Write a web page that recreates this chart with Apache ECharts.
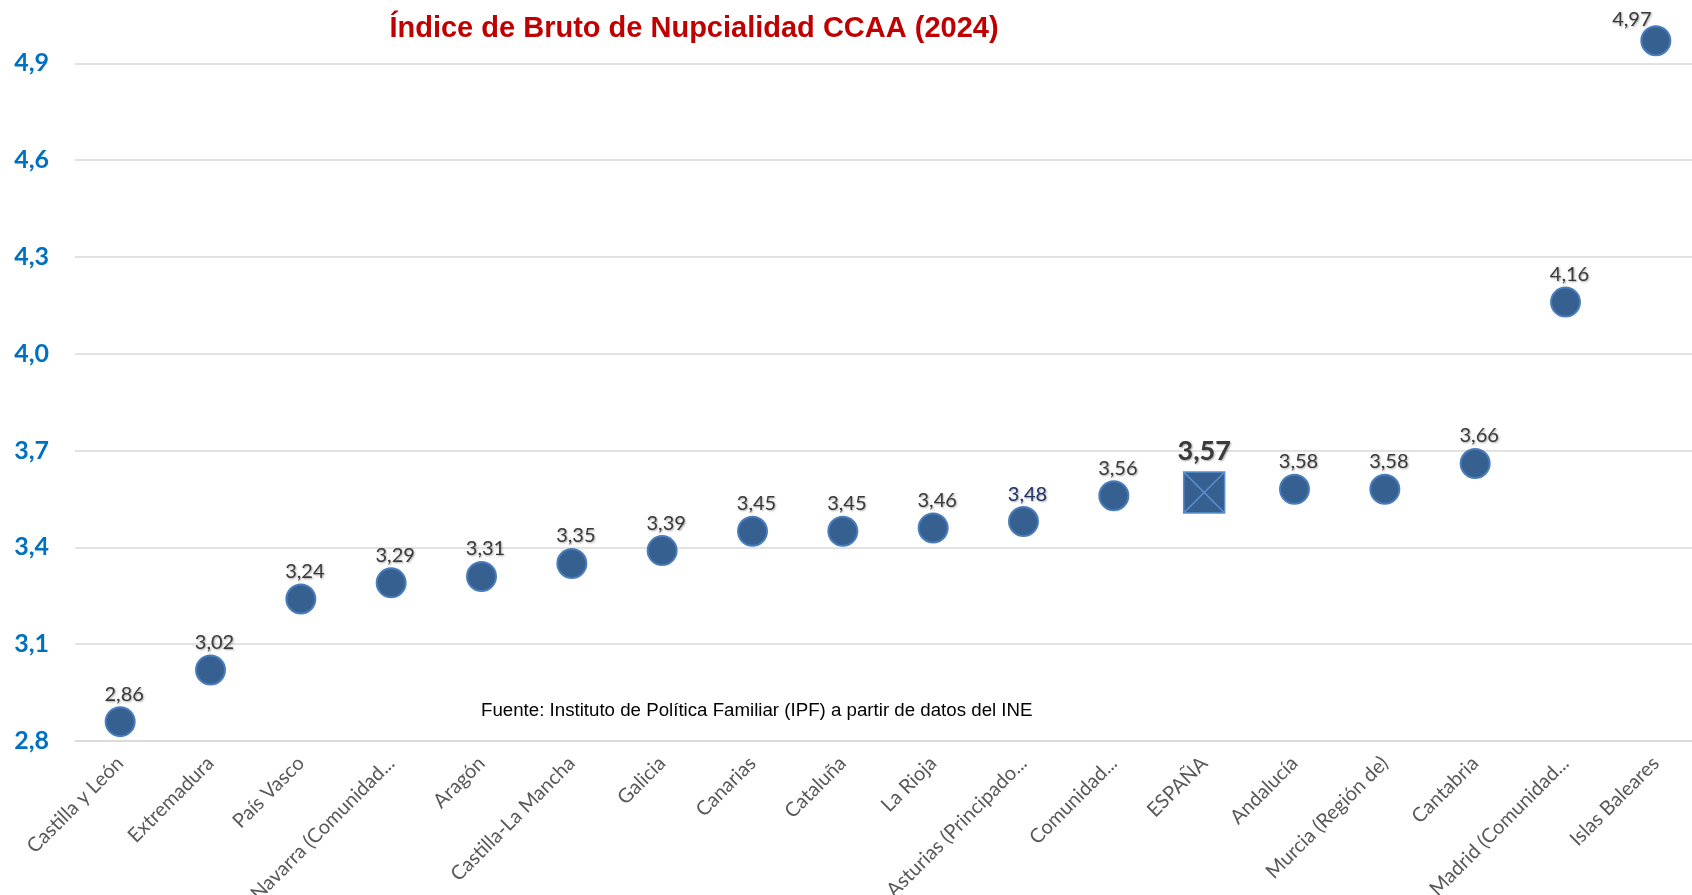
<!DOCTYPE html>
<html>
<head>
<meta charset="utf-8">
<script src="https://cdn.jsdelivr.net/npm/echarts@6/dist/echarts.min.js"></script>
<style>
html,body{margin:0;padding:0;background:#fff;}
#chart{width:1692px;height:895px;}
</style>
</head>
<body>
<div id="chart"></div>
<script>
var categories = ['Castilla y León','Extremadura','País Vasco','Navarra (Comunidad...','Aragón','Castilla-La Mancha','Galicia','Canarias','Cataluña','La Rioja','Asturias (Principado...','Comunidad...','ESPAÑA','Andalucía','Murcia (Región de)','Cantabria','Madrid (Comunidad...','Islas Baleares'];
var values = [2.86, 3.02, 3.24, 3.29, 3.31, 3.35, 3.39, 3.45, 3.45, 3.46, 3.48, 3.56, 3.57, 3.58, 3.58, 3.66, 4.16, 4.97];
var yMin = 2.8, yMax = 4.9, yStep = 0.3;
var titleText = 'Índice de Bruto de Nupcialidad CCAA (2024)';
var sourceText = 'Fuente: Instituto de Política Familiar (IPF) a partir de datos del INE';

var FILL = '#36608F', EDGE = '#4A7DBD';
var fmt2 = function (v) { return v.toFixed(2).replace('.', ','); };

var seriesData = values.map(function (v, i) {
  var name = categories[i];
  var item = { value: v };
  if (name === 'ESPAÑA') {
    item.symbol = 'path://M0 0H10V10H0Z M0 0L10 10 M10 0L0 10';
    item.symbolSize = 41;
    item.itemStyle = { color: FILL, borderColor: '#5B8FD3', borderWidth: 1.5, opacity: 1 };
    item.label = { fontSize: 27, fontWeight: 'bold', distance: 6, offset: [0, 0], color: '#3A3A3A' };
  } else if (name === 'Asturias (Principado...') {
    item.label = { color: '#1F3366' };
  } else if (i === values.length - 1) {
    item.label = { offset: [-24, 6] };
  }
  return item;
});

var chart = echarts.init(document.getElementById('chart'));
chart.setOption({
  animation: false,
  backgroundColor: '#ffffff',
  grid: { left: 75, right: -9, top: 63.3, bottom: 154, containLabel: false, outerBoundsMode: 'none' },
  xAxis: {
    type: 'category',
    data: categories,
    boundaryGap: true,
    axisLine: { show: true, lineStyle: { color: '#d9d9d9', width: 1.5 } },
    axisTick: { show: false },
    axisLabel: { interval: 0, rotate: 45, margin: 19, fontFamily: 'Lato', fontSize: 20, color: '#595959' },
    splitLine: { show: false }
  },
  yAxis: {
    type: 'value',
    min: yMin, max: yMax, interval: yStep,
    axisLine: { show: false },
    axisTick: { show: false },
    axisLabel: {
      margin: 26, fontFamily: 'Lato', fontWeight: 'bold', fontSize: 25, color: '#0070C0',
      formatter: function (v) { return v.toFixed(1).replace('.', ','); }
    },
    splitLine: { show: true, lineStyle: { color: '#d9d9d9', width: 1.5 } }
  },
  series: [{
    type: 'scatter',
    data: seriesData,
    clip: false,
    symbol: 'circle',
    symbolSize: 29,
    itemStyle: { color: FILL, borderColor: EDGE, borderWidth: 2, opacity: 1 },
    label: {
      show: true, position: 'top', distance: 2, offset: [4, 0],
      fontFamily: 'Lato', fontSize: 20, color: '#3A3A3A',
      textShadowColor: 'rgba(0,0,0,0.35)', textShadowBlur: 2, textShadowOffsetX: 1, textShadowOffsetY: 1,
      formatter: function (p) { return fmt2(p.value); }
    },
    z: 3
  }],
  graphic: [
    { type: 'text', x: 694, y: 29, style: { text: titleText, fill: '#C00000', font: 'bold 29px "Liberation Sans", Arial, sans-serif', textAlign: 'center', textVerticalAlign: 'middle' } },
    { type: 'text', x: 481, y: 711, style: { text: sourceText, fill: '#000000', font: '18.7px "Liberation Sans", Arial, sans-serif', textAlign: 'left', textVerticalAlign: 'middle' } }
  ]
});
</script>
</body>
</html>
